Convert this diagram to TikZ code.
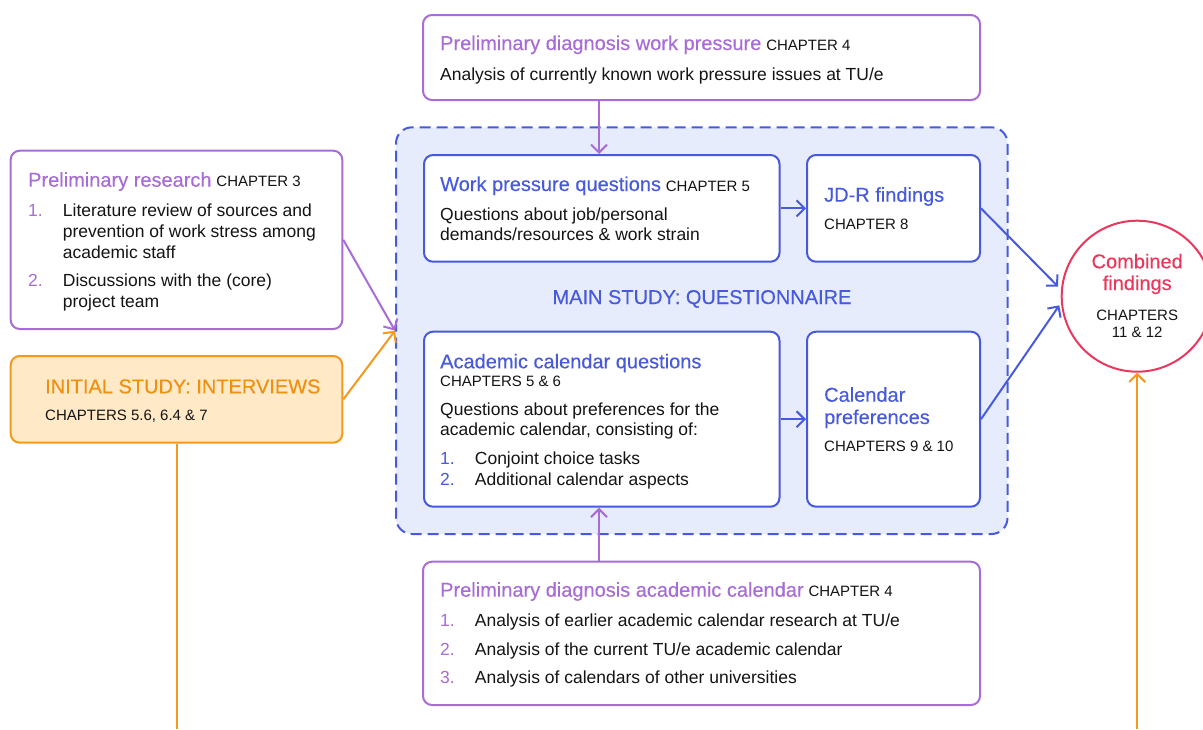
\documentclass[tikz,border=0pt]{standalone}
\usepackage{fontspec}
\setmainfont{Liberation Sans}
\newfontfamily\headfamily{Liberation Sans}[FakeBold=0.3]
\usetikzlibrary{arrows.meta}

\definecolor{purp}{HTML}{A86CD6}
\definecolor{blu}{HTML}{485ADC}
\definecolor{mainfill}{HTML}{E6ECFC}
\definecolor{orng}{HTML}{F39A1E}
\definecolor{orngtxt}{HTML}{F0900F}
\definecolor{orngfill}{HTML}{FFE9C7}
\definecolor{rd}{HTML}{E9385D}
\definecolor{ink}{HTML}{141414}

\newcommand\ttlfont{\headfamily\fontsize{20}{24}\selectfont}
\newcommand\bdyfont{\fontsize{17.5}{20.8}\selectfont}
\newcommand\chpfont{\fontsize{15}{18}\selectfont}

\begin{document}
\begin{tikzpicture}[x=1pt,y=-1pt,
  frame/.style={rectangle, line width=2pt, rounded corners=9pt, inner sep=0pt, fill=white},
  pbox/.style={frame, draw=purp},
  bbox/.style={frame, draw=blu},
  obox/.style={frame, draw=orng, fill=orngfill},
  txt/.style={anchor=base west, inner sep=0pt, text=ink, font=\bdyfont},
  ctxt/.style={anchor=base, inner sep=0pt, text=ink, font=\bdyfont},
  conn/.style={line width=2pt, -{Straight Barb[length=8pt,width=16pt]}},
  parr/.style={conn, draw=purp},
  barr/.style={conn, draw=blu},
  oarr/.style={conn, draw=orng},
  oline/.style={line width=2pt, draw=orng}]

\useasboundingbox (0,0) rectangle (1203,729);

% main study container
\node[rectangle, draw=blu, fill=mainfill, line width=2pt, dash pattern=on 11pt off 6pt,
      rounded corners=16pt, inner sep=0pt, minimum width=611.5pt, minimum height=406.7pt]
      (main) at (701.75,330.65) {};

% boxes
\node[pbox, minimum width=557pt, minimum height=85pt] (wp) at (701.5,57.5) {};
\node[pbox, minimum width=331.6pt, minimum height=178.3pt] (pr) at (176.5,239.85) {};
\node[obox, minimum width=331.6pt, minimum height=86.7pt] (oi) at (176.5,399.35) {};
\node[bbox, minimum width=355.5pt, minimum height=106.7pt] (wq) at (601.75,208.35) {};
\node[bbox, minimum width=173pt, minimum height=106.7pt] (jd) at (893.5,208.35) {};
\node[bbox, minimum width=355.5pt, minimum height=175pt] (ac) at (601.75,419.2) {};
\node[bbox, minimum width=173pt, minimum height=175pt] (cp) at (893.5,419.2) {};
\node[pbox, minimum width=557pt, minimum height=143.3pt] (bd) at (701.5,633.35) {};
\node[circle, draw=rd, fill=white, line width=2pt, inner sep=0pt, minimum size=151pt] (cf) at (1137.2,296.2) {};

% preliminary diagnosis work pressure
\node[txt] (wpT) at (440,50) {{\ttlfont\color{purp}Preliminary diagnosis work pressure} {\chpfont CHAPTER 4}};
\node[txt] (wpB) at (440,80) {Analysis of currently known work pressure issues at TU/e};

% preliminary research
\node[txt] (prT) at (28,186.7) {{\ttlfont\color{purp}Preliminary research} {\chpfont CHAPTER 3}};
\node[txt, text=purp] (prN1) at (28,216.7) {1.};
\node[txt] (prL1) at (62.7,216.7) {Literature review of sources and};
\node[txt] (prL2) at (62.7,237.5) {prevention of work stress among};
\node[txt] (prL3) at (62.7,258.3) {academic staff};
\node[txt, text=purp] (prN2) at (28,286.7) {2.};
\node[txt] (prL4) at (62.7,286.7) {Discussions with the (core)};
\node[txt] (prL5) at (62.7,307.5) {project team};

% initial study
\node[txt, text=orngtxt, font=\ttlfont] (oiT) at (45,393.3) {INITIAL STUDY: INTERVIEWS};
\node[txt, font=\chpfont] (oiB) at (45,420) {CHAPTERS 5.6, 6.4 \& 7};

% work pressure questions
\node[txt] (wqT) at (440,191) {{\ttlfont\color{blu}Work pressure questions} {\chpfont CHAPTER 5}};
\node[txt] (wqL1) at (440,220) {Questions about job/personal};
\node[txt] (wqL2) at (440,240.7) {demands/resources \& work strain};

% JD-R findings
\node[txt, text=blu, font=\ttlfont] (jdT) at (824,201.7) {JD-R findings};
\node[txt, font=\chpfont] (jdB) at (824,229.3) {CHAPTER 8};

% container label
\node[ctxt, text=blu, font=\ttlfont] (mainT) at (702,304) {MAIN STUDY: QUESTIONNAIRE};

% academic calendar questions
\node[txt, text=blu, font=\ttlfont] (acT) at (440,368.3) {Academic calendar questions};
\node[txt, font=\chpfont] (acC) at (440,386.7) {CHAPTERS 5 \& 6};
\node[txt] (acL1) at (440,415) {Questions about preferences for the};
\node[txt] (acL2) at (440,435.7) {academic calendar, consisting of:};
\node[txt, text=blu] (acN1) at (440,464) {1.};
\node[txt] (acI1) at (474.7,464) {Conjoint choice tasks};
\node[txt, text=blu] (acN2) at (440,485.7) {2.};
\node[txt] (acI2) at (474.7,485.7) {Additional calendar aspects};

% calendar preferences
\node[txt, text=blu, font=\ttlfont] (cpT1) at (824,401.7) {Calendar};
\node[txt, text=blu, font=\ttlfont] (cpT2) at (824,424) {preferences};
\node[txt, font=\chpfont] (cpB) at (824,451.7) {CHAPTERS 9 \& 10};

% preliminary diagnosis academic calendar
\node[txt] (bdT) at (440,596.7) {{\ttlfont\color{purp}Preliminary diagnosis academic calendar} {\chpfont CHAPTER 4}};
\node[txt, text=purp] (bdN1) at (440,626.7) {1.};
\node[txt] (bdI1) at (474.7,626.7) {Analysis of earlier academic calendar research at TU/e};
\node[txt, text=purp] (bdN2) at (440,655) {2.};
\node[txt] (bdI2) at (474.7,655) {Analysis of the current TU/e academic calendar};
\node[txt, text=purp] (bdN3) at (440,683.3) {3.};
\node[txt] (bdI3) at (474.7,683.3) {Analysis of calendars of other universities};

% combined findings
\node[ctxt, text=rd, font=\ttlfont] (cfT1) at (1137.2,268.3) {Combined};
\node[ctxt, text=rd, font=\ttlfont] (cfT2) at (1137.2,290) {findings};
\node[ctxt, font=\chpfont] (cfB1) at (1137.2,320) {CHAPTERS};
\node[ctxt, font=\chpfont] (cfB2) at (1137.2,337.3) {11 \& 12};

% connectors
\coordinate (obot) at (176.5,729);
\coordinate (cbot) at (1137.2,729);
\draw[parr] ([xshift=177pt]wp.south west) -- ([xshift=176pt]wq.north west);
\draw[parr] ([xshift=177pt]bd.north west) -- ([xshift=176pt]ac.south west);
\draw[parr] (pr.east) -- (main.west);
\draw[oarr] (oi.east) -- (main.west);
\draw[barr] (wq.east) -- (jd.west);
\draw[barr] (ac.east) -- (cp.west);
\draw[barr, shorten >=4pt] (jd.east) -- (cf.175);
\draw[barr, shorten >=3pt] (cp.east) -- (cf.185);
\draw[oline] (oi.south) -- (obot);
\draw[oarr] (cbot) -- (cf.south);
\end{tikzpicture}
\end{document}
